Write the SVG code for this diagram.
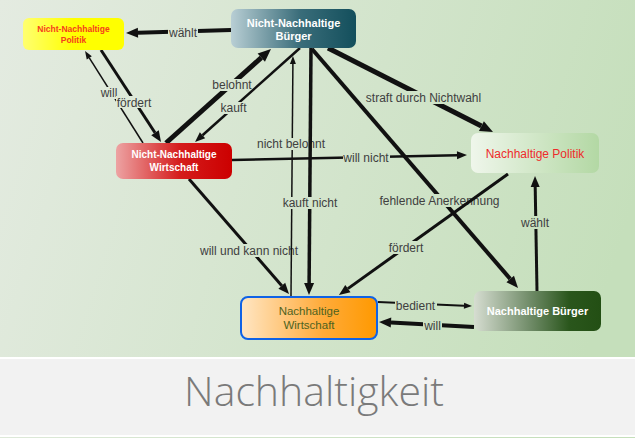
<svg xmlns="http://www.w3.org/2000/svg" width="635" height="438" viewBox="0 0 635 438">
<defs>
<linearGradient id="bg" gradientUnits="userSpaceOnUse" x1="0" y1="0" x2="635" y2="200">
<stop offset="0" stop-color="#e4ebe1"/><stop offset="1" stop-color="#c5dfbb"/>
</linearGradient>
<linearGradient id="gNNP" x1="0" y1="0" x2="1" y2="0"><stop offset="0" stop-color="#ffff70"/><stop offset="0.5" stop-color="#ffff00"/><stop offset="1" stop-color="#ffff00"/></linearGradient>
<linearGradient id="gNNB" x1="0" y1="0" x2="1" y2="0"><stop offset="0" stop-color="#b8ced4"/><stop offset="0.55" stop-color="#3a6d7a"/><stop offset="1" stop-color="#134f5c"/></linearGradient>
<linearGradient id="gNNW" x1="0" y1="0" x2="1" y2="0"><stop offset="0" stop-color="#eda3a3"/><stop offset="0.55" stop-color="#d51c1c"/><stop offset="1" stop-color="#cc0000"/></linearGradient>
<linearGradient id="gNP" x1="0" y1="0" x2="1" y2="0"><stop offset="0" stop-color="#eff6eb"/><stop offset="1" stop-color="#b3d8a4"/></linearGradient>
<linearGradient id="gNW" x1="0" y1="0" x2="1" y2="0"><stop offset="0" stop-color="#ffe6c4"/><stop offset="0.6" stop-color="#ffab3a"/><stop offset="1" stop-color="#ff9900"/></linearGradient>
<linearGradient id="gNB" x1="0" y1="0" x2="1" y2="0"><stop offset="0" stop-color="#d6ddd1"/><stop offset="0.45" stop-color="#6e8a66"/><stop offset="0.75" stop-color="#2a561c"/><stop offset="1" stop-color="#234f14"/></linearGradient>
<marker id="xl" markerUnits="userSpaceOnUse" markerWidth="13" markerHeight="11" refX="0" refY="5.5" orient="auto" overflow="visible"><path d="M0,0 L13,5.5 L0,11 Z" fill="#111"/></marker>
<marker id="lg" markerUnits="userSpaceOnUse" markerWidth="12" markerHeight="10" refX="0" refY="5" orient="auto" overflow="visible"><path d="M0,0 L12,5 L0,10 Z" fill="#111"/></marker>
<marker id="md" markerUnits="userSpaceOnUse" markerWidth="11" markerHeight="9" refX="0" refY="4.5" orient="auto" overflow="visible"><path d="M0,0 L11,4.5 L0,9 Z" fill="#111"/></marker>
<marker id="s10" markerUnits="userSpaceOnUse" markerWidth="10" markerHeight="8" refX="0" refY="4" orient="auto" overflow="visible"><path d="M0,0 L10,4 L0,8 Z" fill="#111"/></marker>
<marker id="sm" markerUnits="userSpaceOnUse" markerWidth="8" markerHeight="6" refX="0" refY="3" orient="auto" overflow="visible"><path d="M0,0 L8,3 L0,6 Z" fill="#111"/></marker>
</defs>
<style>
.e{fill:none;stroke:#111;stroke-linecap:butt}
.lb{fill:url(#bg)}
.lt{font-family:"Liberation Sans",Arial,sans-serif;font-size:12px;fill:#404040;text-anchor:middle}
.nt{font-family:"Liberation Sans",Arial,sans-serif;text-anchor:middle}
</style>
<rect x="0" y="0" width="635" height="438" fill="url(#bg)"/>
<rect x="0" y="357" width="635" height="80" fill="#ffffff"/>
<rect x="0" y="359" width="635" height="76" fill="#f2f2f2"/>
<text x="314" y="406" font-family="'Open Sans','Liberation Sans',sans-serif" font-size="41" font-weight="300" fill="#7a7a7a" text-anchor="middle">Nachhaltigkeit</text>

<g id="connectors">
<path class="e" d="M231,30 L138,32.7" stroke-width="4" marker-end="url(#lg)"/>
<rect class="lb" x="168" y="27" width="30" height="12"/><text class="lt" x="183" y="37">wählt</text>
<path class="e" d="M101,50 L155,132.8" stroke-width="3" marker-end="url(#md)"/>
<path class="e" d="M143,143 L89.3,57.8" stroke-width="1.5" marker-end="url(#sm)"/>
<rect class="lb" x="100" y="87" width="19" height="12"/><text class="lt" x="109" y="97">will</text>
<rect class="lb" x="116" y="96" width="37" height="12"/><text class="lt" x="134" y="106.5">fördert</text>
<path class="e" d="M166,143 L261.3,57.7" stroke-width="5" marker-end="url(#xl)"/>
<rect class="lb" x="211" y="79" width="42" height="12"/><text class="lt" x="232" y="89">belohnt</text>
<path class="e" d="M300,48 L202.5,135.3" stroke-width="2.5" marker-end="url(#s10)"/>
<rect class="lb" x="220" y="102" width="28" height="12"/><text class="lt" x="233.5" y="112">kauft</text>
<path class="e" d="M328,48 L481.4,126.1" stroke-width="5" marker-end="url(#xl)"/>
<rect class="lb" x="365" y="91" width="118" height="13"/><text class="lt" x="423.5" y="101.5">straft durch Nichtwahl</text>
<path class="e" d="M312,49 L510.2,278.9" stroke-width="4" marker-end="url(#lg)"/>
<rect class="lb" x="378" y="194" width="123" height="13"/><text class="lt" x="439.5" y="204.5">fehlende Anerkennung</text>
<path class="e" d="M508,174 L347.9,288.6" stroke-width="3" marker-end="url(#md)"/>
<rect class="lb" x="388" y="241" width="37" height="13"/><text class="lt" x="406" y="251.5">fördert</text>
<path class="e" d="M537,291 L535.2,187" stroke-width="3" marker-end="url(#md)"/>
<rect class="lb" x="520" y="216" width="30" height="13"/><text class="lt" x="535" y="226.5">wählt</text>
<path class="e" d="M189,179 L281.8,285.7" stroke-width="3" marker-end="url(#md)"/>
<rect class="lb" x="199" y="244" width="100" height="13"/><text class="lt" x="249" y="254.5">will und kann nicht</text>
<path class="e" d="M291,296 L292.9,64" stroke-width="1.5" marker-end="url(#sm)"/>
<rect class="lb" x="256" y="138" width="70" height="12"/><text class="lt" x="291" y="148">nicht belohnt</text>
<path class="e" d="M311,48 L309.1,283" stroke-width="3.5" marker-end="url(#lg)"/>
<path class="e" d="M232,160 L457,155.2" stroke-width="2.5" marker-end="url(#s10)"/>
<rect class="lb" x="343" y="152" width="47" height="12"/><text class="lt" x="366" y="162">will nicht</text>
<rect class="lb" x="282" y="197" width="57" height="12"/><text class="lt" x="310" y="207">kauft nicht</text>
<path class="e" d="M378,302 L464,305.7" stroke-width="2" marker-end="url(#sm)"/>
<rect class="lb" x="395" y="300" width="42" height="12"/><text class="lt" x="415.5" y="310">bedient</text>
<path class="e" d="M474,327 L391,322.6" stroke-width="4" marker-end="url(#lg)"/>
<rect class="lb" x="423" y="320" width="19" height="12"/><text class="lt" x="432.5" y="330">will</text>
</g>

<g id="nnp">
<rect x="23" y="18" width="101" height="32" rx="6" fill="url(#gNNP)"/>
<text class="nt" x="73.5" y="31.5" font-size="8.5" font-weight="bold" fill="#f5401c">Nicht-Nachhaltige</text>
<text class="nt" x="73.5" y="42.5" font-size="8.5" font-weight="bold" fill="#f5401c">Politik</text>
</g>
<g id="nnb">
<rect x="231" y="9" width="125" height="39" rx="7" fill="url(#gNNB)"/>
<text class="nt" x="293.5" y="27" font-size="11" font-weight="bold" fill="#ffffff">Nicht-Nachhaltige</text>
<text class="nt" x="293.5" y="39.5" font-size="11" font-weight="bold" fill="#ffffff">Bürger</text>
</g>
<g id="nnw">
<rect x="116" y="143" width="116" height="36" rx="7" fill="url(#gNNW)"/>
<text class="nt" x="174" y="158" font-size="10" font-weight="bold" fill="#ffffff">Nicht-Nachhaltige</text>
<text class="nt" x="174" y="171" font-size="10" font-weight="bold" fill="#ffffff">Wirtschaft</text>
</g>
<g id="np">
<rect x="471" y="133" width="128" height="40" rx="7" fill="url(#gNP)"/>
<text class="nt" x="535" y="158" font-size="12" fill="#ee2b2b">Nachhaltige Politik</text>
</g>
<g id="nw">
<rect x="241" y="297" width="136" height="42" rx="7" fill="url(#gNW)" stroke="#0f62e6" stroke-width="2"/>
<text class="nt" x="309" y="315" font-size="11.5" fill="#4e6220">Nachhaltige</text>
<text class="nt" x="309" y="329" font-size="11.5" fill="#4e6220">Wirtschaft</text>
</g>
<g id="nb">
<rect x="474" y="291" width="127" height="40" rx="7" fill="url(#gNB)"/>
<text class="nt" x="537.5" y="315" font-size="11" font-weight="bold" fill="#ffffff">Nachhaltige Bürger</text>
</g>
</svg>
